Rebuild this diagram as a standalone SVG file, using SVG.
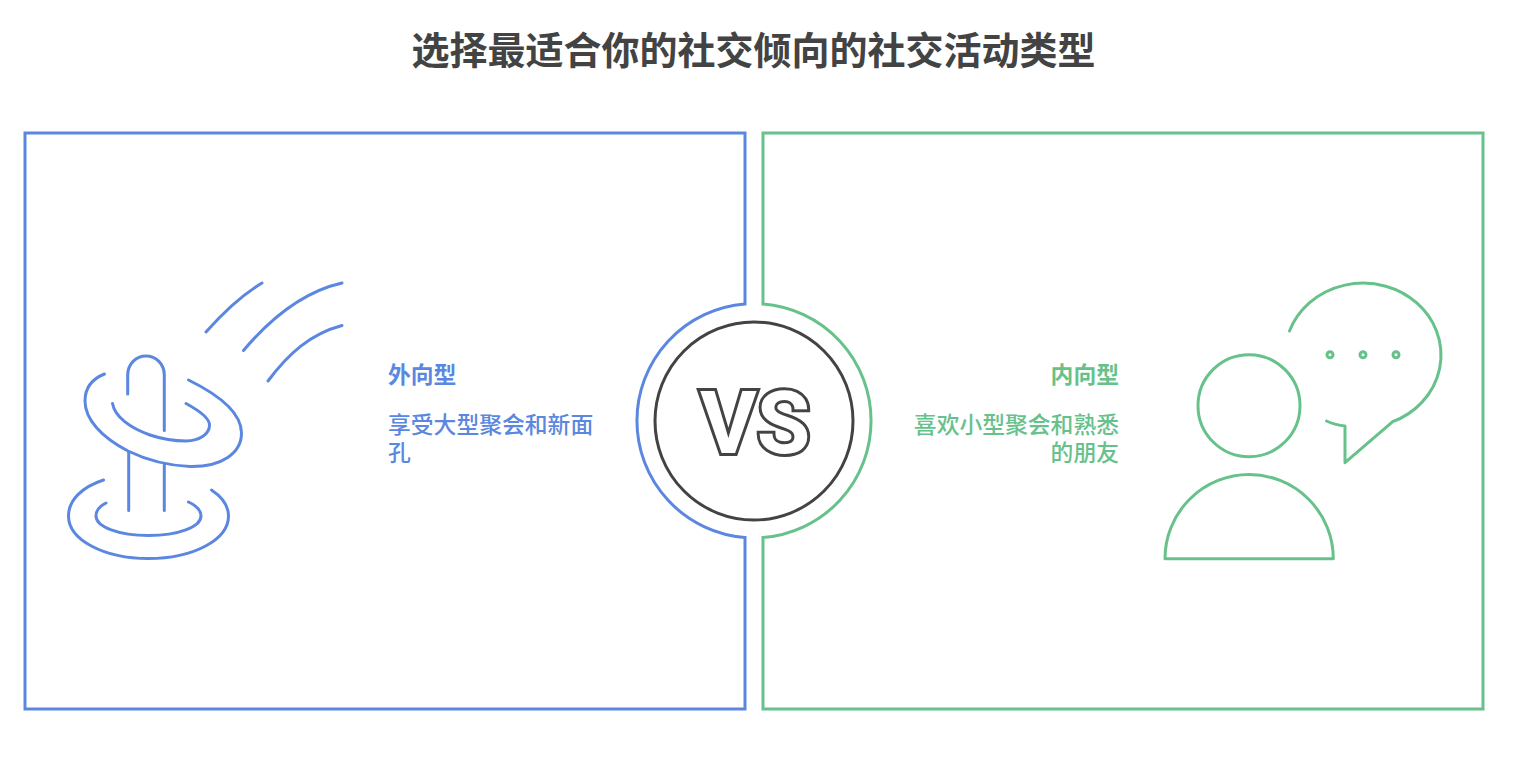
<svg xmlns="http://www.w3.org/2000/svg" width="1526" height="762" viewBox="0 0 1526 762">
<style>
text{font-family:"Noto Sans CJK SC","Liberation Sans",sans-serif}
.line{fill:none;stroke-linecap:round;stroke-linejoin:round}
.blue{stroke:#5b87e0}
.green{stroke:#67c18a}
.panel{stroke-width:3;stroke-linejoin:miter}
.icon{stroke-width:3}
.head{font-size:22.8px;font-weight:700}
.body{font-size:22.8px;font-weight:500}
.tb{fill:#5b87e0}
.tg{fill:#67c18a}
</style>
<rect width="1526" height="762" fill="#fff"/>
<text id="title" x="753.500" y="64" text-anchor="middle" font-size="38" font-weight="700" fill="#434343">选择最适合你的社交倾向的社交活动类型</text>
<g id="panel-left">
<path class="line blue panel" d="M745 304V133H25V709H745V537.500A117.100 117.100 0 0 1 745 304Z"/>
<g class="line blue icon">
<path d="M104.500 374C92 379 85 388 85 401C85 419 101 437 128 451C155 464 178 466 190 466.500C222 467 241.500 453 241.500 433C241.500 412 217 394 188.500 380"/>
<path d="M112.500 403.500C115 417 130 428 150 435C165 440 175 441 186 441C200 440.500 209.500 434 209.500 425C209.500 418 198 410 186 403.500"/>
<path d="M127.700 394V375C127.700 364 136 356 146 356C156 356 164.300 364 164.300 375V430.500"/>
<path d="M128.700 452V510.500M164.300 465V510.500"/>
<path d="M103.500 480C82 487 68.500 500 68.500 516C68.500 540 104 558.500 148.500 558.500C193 558.500 228.500 540 228.500 516C228.500 506 222 497 211.500 490"/>
<path d="M106 503C100 506 96 511 96 516C96 527 119 535.500 148.500 535.500C178 535.500 201 527 201 516C201 510 196 505.500 188.500 502"/>
<path d="M206 332C222 314 242 295 262 283"/>
<path d="M243.500 350.500C270 319 302 292 342 283"/>
<path d="M268 381C288 354 310 334 342 325.500"/>
</g>
<text class="head tb" x="388" y="383">外向型</text>
<text class="body tb" x="388" y="433">享受大型聚会和新面</text>
<text class="body tb" x="388" y="461">孔</text>
</g>
<g id="panel-right">
<path class="line green panel" d="M763 304V133H1483V709H763V537.500A117.100 117.100 0 0 0 763 304Z"/>
<g class="line green icon">
<circle cx="1249" cy="405.700" r="51"/>
<path d="M1165 558.700A84 84 0 0 1 1333.300 558.700Z"/>
<path d="M1289.500 331A78 72 0 1 1 1392.700 421.700L1345 462.700V426C1338 425.500 1332 423.500 1326.500 421"/>
<circle cx="1330" cy="354.700" r="3"/>
<circle cx="1363" cy="354.700" r="3"/>
<circle cx="1396" cy="354.700" r="3"/>
</g>
<text class="head tg" x="1119" y="383" text-anchor="end">内向型</text>
<text class="body tg" x="1119" y="433" text-anchor="end">喜欢小型聚会和熟悉</text>
<text class="body tg" x="1119" y="461" text-anchor="end">的朋友</text>
</g>
<g id="vs">
<circle cx="754" cy="421" r="99" fill="#fff" stroke="#434343" stroke-width="3"/>
<text x="700" y="452.500" font-size="87" font-weight="700" style="font-family:Roboto,sans-serif;paint-order:stroke" fill="#fff" stroke="#434343" stroke-width="6" stroke-linejoin="miter">VS</text>
</g>
<g id="connectors"/>
</svg>
